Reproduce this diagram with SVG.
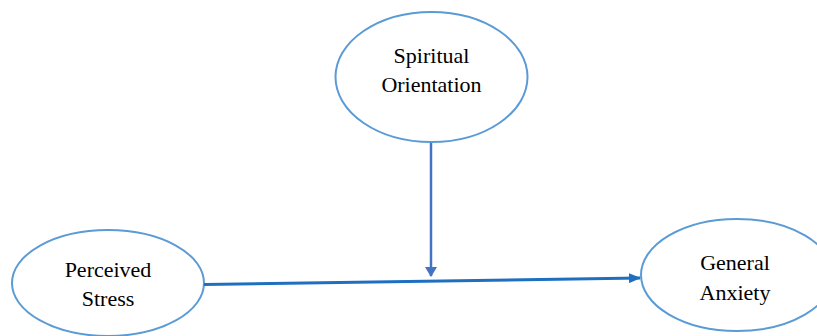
<svg xmlns="http://www.w3.org/2000/svg" width="817" height="336" viewBox="0 0 817 336">
<style>
.node ellipse{fill:#fff;stroke:#5b9bd5;stroke-width:2}
.node text{font-family:"Liberation Serif",serif;font-size:22px;fill:#000;text-anchor:middle}
</style>
<defs>
<marker id="ah1" markerWidth="12" markerHeight="10" refX="11" refY="5" orient="auto" markerUnits="userSpaceOnUse"><path d="M0,0 L12,5 L0,10 Z" fill="#1f6fc0"/></marker>
<marker id="ah2" markerWidth="10" markerHeight="12" refX="9" refY="6" orient="auto" markerUnits="userSpaceOnUse"><path d="M0,0 L10,6 L0,12 Z" fill="#4472c4"/></marker>
</defs>
<rect width="817" height="336" fill="#fff"/>
<g id="spiritual" class="node">
<ellipse cx="431.5" cy="77" rx="96" ry="65"/>
<text x="431.5" y="63">Spiritual</text>
<text x="431.5" y="92">Orientation</text>
</g>
<g id="perceived" class="node">
<ellipse cx="108" cy="283" rx="96" ry="53"/>
<text x="108" y="277">Perceived</text>
<text x="108" y="306">Stress</text>
</g>
<g id="anxiety" class="node">
<ellipse cx="737" cy="275" rx="96" ry="56"/>
<text x="735" y="270">General</text>
<text x="735" y="300">Anxiety</text>
</g>
<g id="connectors">
<line x1="204" y1="284.5" x2="640" y2="278" stroke="#1f6fc0" stroke-width="3" marker-end="url(#ah1)"/>
<line x1="431" y1="143" x2="431" y2="276" stroke="#4472c4" stroke-width="2.5" marker-end="url(#ah2)"/>
</g>
</svg>
